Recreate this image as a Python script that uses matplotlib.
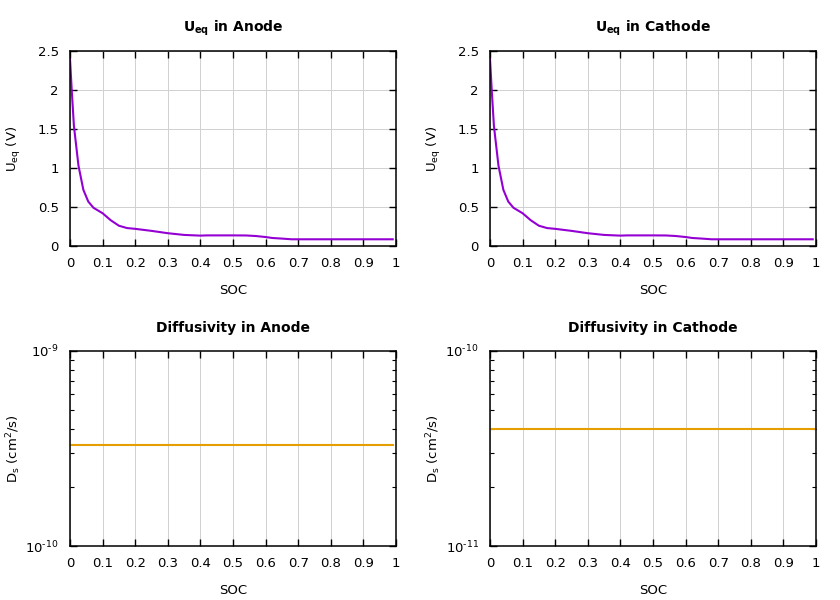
import numpy as np
import matplotlib
matplotlib.use("Agg")
import matplotlib.pyplot as plt
from matplotlib.ticker import FuncFormatter, LogLocator, NullFormatter, FixedLocator

plt.rc('font', family='DejaVu Sans', size=9.5)
plt.rc('mathtext', fontset='dejavusans')

# equilibrium potential (same curve in both top panels)
soc = [0.0, 0.005, 0.012, 0.026, 0.041, 0.056, 0.072, 0.1, 0.125, 0.15, 0.175, 0.2,
       0.25, 0.3, 0.35, 0.4, 0.42, 0.5, 0.54, 0.57, 0.6, 0.62, 0.65, 0.68, 0.75,
       0.85, 0.99]
u_eq = [2.40, 2.02, 1.54, 1.03, 0.72, 0.57, 0.49, 0.42, 0.33, 0.26, 0.23, 0.22,
        0.194, 0.164, 0.142, 0.133, 0.136, 0.136, 0.135, 0.128, 0.115, 0.103, 0.095,
        0.086, 0.086, 0.086, 0.086]

# constant diffusivities
d_anode = 3.3e-10
d_cathode = 4.0e-11
soc_anode = [0.0, 0.99]
soc_cathode = [0.0, 1.0]

PURPLE = "#9400d3"
ORANGE = "#e69f00"
GRID = "#d0d0d0"
W, H = 840, 600


def style_axes(ax, log=False):
    ax.set_xlim(0, 1)
    ax.set_xticks(np.arange(0, 1.01, 0.1))
    ax.xaxis.set_major_formatter(FuncFormatter(lambda v, p: "%g" % round(v, 2)))
    ax.tick_params(which='major', direction='in', length=5, width=1,
                   top=True, right=True, pad=8, labelsize=9.5)
    ax.tick_params(which='minor', direction='in', length=3, width=0.8,
                   top=False, right=True, left=True)
    for s in ax.spines.values():
        s.set_linewidth(1.1)
    ax.grid(True, axis='x', color=GRID, linewidth=0.7)
    if not log:
        ax.grid(True, axis='y', color=GRID, linewidth=0.7)
    ax.set_axisbelow(True)
    ax.set_xlabel("SOC")
    ax.xaxis.set_label_coords(0.5, -38 / 195)
    ax.yaxis.set_label_coords(-47 / 326, 0.5)


def log_label(v, p):
    e = int(round(np.log10(v)))
    return r"10$^{\text{%d}}$" % e


fig = plt.figure(figsize=(W / 100, H / 100), dpi=100)


def rect(x0, y0, x1, y1):
    return [x0 / W, 1 - y1 / H, (x1 - x0) / W, (y1 - y0) / H]


ax1 = fig.add_axes(rect(70, 51, 396, 246))
ax2 = fig.add_axes(rect(490, 51, 816, 246))
ax3 = fig.add_axes(rect(70, 351, 396, 546))
ax4 = fig.add_axes(rect(490, 351, 816, 546))

for ax, side in [(ax1, "Anode"), (ax2, "Cathode")]:
    ax.plot(soc, u_eq, color=PURPLE, linewidth=1.5)
    ax.set_ylim(0, 2.5)
    ax.set_yticks(np.arange(0, 2.51, 0.5))
    ax.yaxis.set_major_formatter(FuncFormatter(lambda v, p: "%g" % v))
    style_axes(ax)
    ax.set_ylabel(r"U$_\mathregular{eq}$ (V)")
    ax.set_title(r"$\mathbf{U_{eq}}$ in " + side, fontweight='bold', fontsize=10, pad=14)

for ax, side, xs, d, lo in [(ax3, "Anode", soc_anode, d_anode, 1e-10),
                            (ax4, "Cathode", soc_cathode, d_cathode, 1e-11)]:
    ax.plot(xs, [d, d], color=ORANGE, linewidth=1.5)
    ax.set_yscale('log')
    ax.set_ylim(lo, lo * 10)
    ax.yaxis.set_major_locator(FixedLocator([lo, lo * 10]))
    ax.yaxis.set_major_formatter(FuncFormatter(log_label))
    ax.yaxis.set_minor_locator(LogLocator(base=10, subs=np.arange(2, 10), numticks=20))
    ax.yaxis.set_minor_formatter(NullFormatter())
    style_axes(ax, log=True)
    ax.set_ylabel(r"D$_\mathregular{s}$ (cm$^\mathregular{2}$/s)")
    ax.set_title("Diffusivity in " + side, fontweight='bold', fontsize=10, pad=14)

fig.savefig("out.png", dpi=100)
